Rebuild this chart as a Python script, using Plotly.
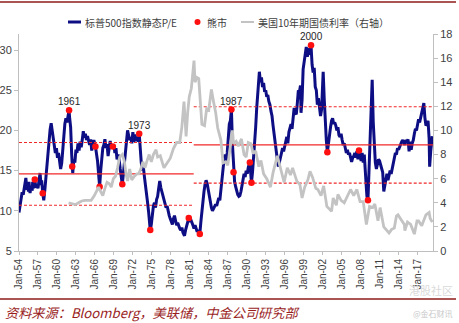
import plotly.graph_objects as go

# ---------------- data ----------------
# S&P 500 trailing P/E (left axis)
pe_dates = [
    "1954-01", "1954-03", "1954-05", "1954-07", "1954-09", "1954-11",
    "1955-01", "1955-02", "1955-04", "1955-05", "1955-07", "1955-08", "1955-10", "1955-12",
    "1956-02", "1956-03", "1956-05", "1956-07", "1956-09", "1956-11",
    "1957-01", "1957-03", "1957-05", "1957-07", "1957-08", "1957-10", "1957-12",
    "1958-02", "1958-04", "1958-06", "1958-08", "1958-10", "1958-12",
    "1959-02", "1959-04", "1959-06", "1959-08", "1959-10", "1959-12",
    "1960-02", "1960-04", "1960-06", "1960-08", "1960-10", "1960-12",
    "1961-02", "1961-04", "1961-06", "1961-08", "1961-10", "1961-12",
    "1962-01", "1962-03", "1962-05", "1962-06", "1962-07", "1962-09", "1962-11",
    "1963-01", "1963-03", "1963-05", "1963-07", "1963-09", "1963-11",
    "1964-01", "1964-03", "1964-05", "1964-07", "1964-09", "1964-11",
    "1965-01", "1965-03", "1965-05", "1965-07", "1965-09", "1965-11",
    "1966-02", "1966-04", "1966-06", "1966-08", "1966-10", "1966-12",
    "1967-02", "1967-04", "1967-06", "1967-08", "1967-10", "1967-12",
    "1968-02", "1968-04", "1968-06", "1968-08", "1968-11",
    "1969-01", "1969-03", "1969-05", "1969-07", "1969-09", "1969-11",
    "1970-01", "1970-03", "1970-05", "1970-07", "1970-09", "1970-11",
    "1971-01", "1971-03", "1971-05", "1971-07", "1971-09", "1971-11",
    "1972-01", "1972-03", "1972-05", "1972-07", "1972-09", "1972-11",
    "1973-01", "1973-03", "1973-05", "1973-07", "1973-09", "1973-11",
    "1974-01", "1974-03", "1974-05", "1974-07", "1974-09", "1974-10", "1974-12",
    "1975-02", "1975-04", "1975-06", "1975-08", "1975-10", "1975-12",
    "1976-02", "1976-04", "1976-06", "1976-08", "1976-10", "1976-12",
    "1977-02", "1977-04", "1977-06", "1977-08", "1977-10", "1977-12",
    "1978-02", "1978-04", "1978-06", "1978-08", "1978-10", "1978-12",
    "1979-02", "1979-04", "1979-06", "1979-08", "1979-10", "1979-12",
    "1980-02", "1980-03", "1980-05", "1980-07", "1980-09", "1980-11",
    "1981-01", "1981-03", "1981-05", "1981-07", "1981-09", "1981-11",
    "1982-01", "1982-03", "1982-05", "1982-07", "1982-08", "1982-10", "1982-12",
    "1983-02", "1983-04", "1983-06", "1983-08", "1983-10", "1983-12",
    "1984-02", "1984-04", "1984-06", "1984-08", "1984-10", "1984-12",
    "1985-02", "1985-04", "1985-06", "1985-08", "1985-10", "1985-12",
    "1986-02", "1986-04", "1986-06", "1986-08", "1986-10", "1986-12",
    "1987-02", "1987-04", "1987-06", "1987-08", "1987-10", "1987-12",
    "1988-02", "1988-04", "1988-06", "1988-08", "1988-10", "1988-12",
    "1989-02", "1989-04", "1989-06", "1989-08", "1989-10", "1989-12",
    "1990-02", "1990-04", "1990-07", "1990-08", "1990-10", "1990-12",
    "1991-02", "1991-04", "1991-06", "1991-08", "1991-10", "1991-12",
    "1992-01", "1992-03", "1992-05", "1992-07", "1992-09", "1992-11",
    "1993-01", "1993-03", "1993-05", "1993-07", "1993-09", "1993-11",
    "1994-01", "1994-03", "1994-05", "1994-07", "1994-09", "1994-11",
    "1995-01", "1995-03", "1995-05", "1995-07", "1995-09", "1995-11",
    "1996-01", "1996-03", "1996-05", "1996-07", "1996-09", "1996-11",
    "1997-01", "1997-03", "1997-05", "1997-07", "1997-09", "1997-11",
    "1998-01", "1998-03", "1998-05", "1998-07", "1998-08", "1998-10", "1998-12",
    "1999-02", "1999-04", "1999-06", "1999-08", "1999-10", "1999-12",
    "2000-01", "2000-03", "2000-05", "2000-07", "2000-09", "2000-11",
    "2001-01", "2001-03", "2001-05", "2001-07", "2001-09", "2001-11",
    "2002-01", "2002-02", "2002-04", "2002-06", "2002-08", "2002-10", "2002-12",
    "2003-02", "2003-04", "2003-06", "2003-08", "2003-10", "2003-12",
    "2004-02", "2004-04", "2004-06", "2004-08", "2004-10", "2004-12",
    "2005-02", "2005-04", "2005-06", "2005-08", "2005-10", "2005-12",
    "2006-02", "2006-04", "2006-06", "2006-08", "2006-10", "2006-12",
    "2007-02", "2007-04", "2007-06", "2007-08", "2007-10", "2007-12",
    "2008-02", "2008-04", "2008-06", "2008-08", "2008-10", "2008-12",
    "2009-01", "2009-03", "2009-05", "2009-07", "2009-09", "2009-11",
    "2010-01", "2010-03", "2010-05", "2010-07", "2010-09", "2010-11",
    "2011-01", "2011-03", "2011-05", "2011-07", "2011-09", "2011-11",
    "2012-01", "2012-03", "2012-05", "2012-07", "2012-09", "2012-11",
    "2013-01", "2013-03", "2013-05", "2013-07", "2013-09", "2013-11",
    "2014-01", "2014-03", "2014-05", "2014-07", "2014-09", "2014-11",
    "2015-01", "2015-03", "2015-05", "2015-07", "2015-09", "2015-11",
    "2016-01", "2016-03", "2016-05", "2016-07", "2016-09", "2016-11",
    "2017-01", "2017-03", "2017-05", "2017-07", "2017-09", "2017-11",
    "2018-01", "2018-03", "2018-05", "2018-07", "2018-09", "2018-11", "2018-12",
    "2019-02", "2019-04", "2019-05",
]
pe_values = [
    9.8, 10.6, 11.4, 12.3, 12.0, 13.0,
    13.6, 14.1, 12.6, 13.5, 12.4, 13.6, 12.2, 13.1,
    12.5, 13.6, 12.8, 13.9, 12.9, 13.3,
    12.8, 13.6, 14.7, 13.2, 13.8, 12.2, 11.3,
    12.6, 14.2, 16.0, 17.6, 19.0, 20.1,
    20.9, 20.0, 19.3, 18.4, 17.2, 17.8,
    16.6, 17.2, 16.0, 15.2, 15.9, 17.2,
    19.2, 20.8, 21.5, 21.0, 21.9, 22.5,
    21.6, 20.4, 17.0, 15.5, 14.7, 16.4, 16.0,
    17.6, 17.2, 18.4, 17.5, 18.6, 17.9,
    18.8, 19.9, 19.1, 19.6, 18.8, 19.3,
    18.7, 18.2, 18.9, 17.5, 18.3, 18.8,
    18.0, 17.2, 16.2, 14.6, 13.0, 15.0,
    16.4, 17.8, 18.2, 18.9, 17.8, 18.3,
    16.8, 17.6, 18.7, 17.9, 18.0,
    18.2, 17.2, 17.8, 16.4, 17.0, 16.4,
    15.2, 14.4, 13.3, 14.6, 16.0, 17.4,
    18.6, 20.0, 19.4, 18.8, 19.2, 18.4,
    19.8, 18.6, 19.5, 18.7, 19.2, 18.6,
    19.6, 17.6, 16.0, 15.0, 15.4, 14.2,
    12.8, 12.4, 11.0, 9.8, 8.4, 7.6, 8.3,
    9.6, 10.6, 11.0, 10.4, 11.4, 11.8,
    12.8, 13.7, 12.9, 12.4, 12.0, 11.6,
    11.0, 10.4, 10.6, 9.8, 9.4, 9.0,
    8.6, 8.3, 9.0, 9.4, 8.8, 8.2,
    8.5, 8.0, 7.8, 7.6, 7.9, 7.3,
    7.1, 6.9, 7.6, 8.3, 8.6, 9.1,
    8.8, 8.9, 8.4, 8.2, 7.8, 8.2,
    7.8, 7.4, 7.6, 7.3, 7.1, 8.6, 10.2,
    11.4, 12.4, 13.3, 13.8, 13.4, 12.6,
    11.6, 11.0, 10.4, 10.0, 10.3, 10.5,
    10.8, 10.6, 11.2, 11.6, 11.3, 12.6,
    14.2, 15.6, 16.4, 17.0, 16.2, 17.2,
    19.0, 20.8, 21.2, 22.6, 18.2, 14.8,
    13.6, 13.0, 12.4, 12.0, 11.8, 11.9,
    12.4, 13.2, 13.8, 14.6, 14.2, 15.0,
    14.6, 15.4, 16.0, 14.6, 13.5, 14.8,
    16.4, 18.2, 20.4, 22.8, 24.6, 25.6,
    27.3, 26.0, 26.6, 25.4, 25.9, 24.8,
    25.0, 24.2, 24.4, 23.6, 23.2, 22.4,
    21.8, 20.6, 19.4, 18.6, 17.6, 16.4,
    15.5, 15.9, 16.6, 17.2, 17.8, 17.4,
    18.2, 18.6, 19.2, 18.4, 19.8, 20.4,
    20.8, 20.2, 21.4, 22.8, 22.2, 22.0,
    23.4, 25.0, 24.8, 25.6, 22.2, 23.8, 27.6,
    28.4, 29.4, 30.4, 29.2, 29.8, 30.2,
    29.4, 30.6, 28.2, 27.2, 27.8, 25.4,
    25.0, 23.2, 24.0, 23.0, 21.8, 22.6,
    26.0, 27.3, 24.0, 21.0, 18.8, 17.3, 18.6,
    19.6, 20.4, 21.2, 21.5, 20.8, 21.0,
    20.6, 20.0, 20.4, 19.4, 19.2, 19.6,
    18.8, 18.2, 18.4, 17.6, 17.2, 17.6,
    17.0, 17.2, 16.4, 16.1, 16.6, 16.8,
    17.2, 16.6, 17.4, 16.4, 17.5, 16.8,
    16.2, 17.2, 16.0, 17.0, 14.0, 12.8,
    11.8, 11.3, 15.0, 19.0, 22.8, 26.3,
    21.0, 17.5, 16.0, 15.2, 16.0, 16.4,
    16.2, 15.6, 15.2, 14.8, 12.4, 13.2,
    13.6, 14.6, 13.8, 14.4, 15.0, 14.6,
    15.4, 16.0, 16.8, 17.2, 17.0, 17.8,
    17.6, 18.0, 18.2, 18.6, 18.8, 18.4,
    18.2, 18.8, 18.6, 18.9, 17.4, 18.6,
    17.6, 18.4, 18.8, 19.6, 20.2, 20.0,
    20.8, 21.4, 21.0, 21.6, 21.8, 22.4,
    23.4, 21.6, 20.6, 20.8, 21.2, 19.0, 15.5,
    17.4, 19.0, 19.3,
]
assert len(pe_dates) == len(pe_values)

# US 10-year Treasury yield, % (right axis)
ust_dates = [
    "1961-11", "1962-06", "1962-12", "1963-06", "1963-12", "1964-06", "1964-12",
    "1965-06", "1965-12", "1966-03", "1966-08", "1966-11", "1967-04", "1967-08", "1967-12",
    "1968-04", "1968-08", "1968-12", "1969-04", "1969-08", "1969-12", "1970-05", "1970-09",
    "1970-12", "1971-03", "1971-07", "1971-11", "1972-04", "1972-09", "1972-12", "1973-04",
    "1973-08", "1973-12", "1974-04", "1974-08", "1974-12", "1975-04", "1975-09", "1975-12",
    "1976-05", "1976-12", "1977-06", "1977-12", "1978-06", "1978-12", "1979-06", "1979-10",
    "1980-02", "1980-06", "1980-09", "1980-12", "1981-04", "1981-09", "1981-11", "1982-02",
    "1982-06", "1982-10", "1982-12", "1983-05", "1983-09", "1984-01", "1984-06", "1984-10",
    "1985-02", "1985-06", "1985-12", "1986-04", "1986-09", "1987-01", "1987-05", "1987-10",
    "1987-12", "1988-05", "1988-09", "1989-03", "1989-08", "1989-12", "1990-04", "1990-09",
    "1991-01", "1991-06", "1991-12", "1992-04", "1992-09", "1993-03", "1993-10", "1994-03",
    "1994-11", "1995-04", "1995-12", "1996-06", "1996-12", "1997-04", "1997-12", "1998-06",
    "1998-10", "1999-03", "1999-09", "2000-01", "2000-06", "2000-12", "2001-04", "2001-10",
    "2002-03", "2002-09", "2003-06", "2003-09", "2004-03", "2004-06", "2004-12", "2005-06",
    "2005-12", "2006-06", "2006-12", "2007-06", "2007-12", "2008-06", "2008-12", "2009-06",
    "2009-12", "2010-04", "2010-10", "2011-02", "2011-09", "2012-07", "2012-12", "2013-05",
    "2013-09", "2013-12", "2014-06", "2014-12", "2015-01", "2015-06", "2015-12", "2016-07",
    "2016-12", "2017-03", "2017-09", "2017-12", "2018-05", "2018-11", "2019-01", "2019-05",
]
ust_values = [
    4.0, 3.95, 3.85, 4.0, 4.15, 4.2, 4.2,
    4.2, 4.6, 4.9, 5.3, 5.0, 4.6, 5.2, 5.7,
    5.6, 5.3, 6.0, 6.2, 6.9, 7.8, 8.0, 7.4,
    6.4, 5.8, 6.8, 5.9, 6.2, 6.4, 6.4, 6.8,
    7.4, 6.9, 7.5, 8.0, 7.4, 8.0, 8.4, 7.8,
    7.9, 6.9, 7.3, 7.7, 8.5, 9.0, 9.0, 10.3,
    12.4, 9.5, 11.5, 12.8, 13.5, 15.8, 14.0, 14.4,
    14.3, 11.0, 10.5, 10.4, 11.8, 11.7, 13.4, 12.4,
    11.5, 10.2, 9.2, 7.3, 7.4, 7.1, 8.6, 10.0,
    8.9, 9.1, 8.7, 9.3, 8.0, 7.8, 9.0, 8.9,
    8.1, 8.3, 7.0, 7.5, 6.4, 6.0, 5.3, 6.5,
    7.9, 7.1, 5.7, 6.9, 6.3, 6.9, 5.8, 5.5,
    4.4, 5.3, 5.9, 6.6, 6.1, 5.2, 5.1, 4.6,
    5.4, 3.7, 3.3, 4.4, 3.8, 4.7, 4.2, 4.0,
    4.5, 5.1, 4.6, 5.1, 4.1, 4.1, 2.2, 3.7,
    3.6, 3.9, 2.5, 3.6, 2.0, 1.5, 1.8, 1.9,
    2.9, 3.0, 2.6, 2.2, 1.7, 2.4, 2.2, 1.4,
    2.5, 2.5, 2.1, 2.4, 3.0, 3.2, 2.7, 2.4,
]
assert len(ust_dates) == len(ust_values)

# Bear-market turning points (marked on the P/E line)
bear_dates = [
    "1956-07", "1957-10", "1961-12", "1962-06", "1966-02", "1966-10",
    "1968-11", "1970-05", "1973-01", "1974-10", "1980-11", "1982-08",
    "1987-08", "1987-12", "1990-07", "1990-10", "2000-03", "2002-10",
    "2007-10", "2009-03",
]
peak_labels = {"1961-12": "1961", "1973-01": "1973", "1987-08": "1987", "2000-03": "2000"}

# P/E regimes: start/end dates, mean and standard deviation
regime_starts = ["1954-01-01", "1981-08-15"]
regime_ends = ["1981-08-15", "2019-06-13"]
regime_means = [14.6, 18.2]
regime_sds = [3.9, 4.75]

x_ticks = [f"{y}-01-01" for y in range(1954, 2018, 3)]
left_ticks = [5, 10, 15, 20, 25, 30]
right_ticks = list(range(0, 19, 2))

# ---------------- figure ----------------
W, H = 459, 323
ML, MR, MT, MB = 19, 26, 34, 72
PW, PH = W - ML - MR, H - MT - MB


def px(x):
    return (x - ML) / PW


def py(y):
    return (H - MB - y) / PH


NAVY = "#0E0E84"
GRAY = "#C3C3C3"
RED = "#F02828"
TXT = "#404040"
FONT = "Liberation Sans, Arial, Noto Sans CJK SC"
CJK = "Noto Sans CJK SC, Liberation Sans"

fig = go.Figure()

fig.add_trace(go.Scatter(
    x=pe_dates, y=pe_values, mode="lines", name="标普500指数静态P/E",
    line=dict(color=NAVY, width=3), showlegend=False, hoverinfo="skip"))

for s, e, m, sd in zip(regime_starts, regime_ends, regime_means, regime_sds):
    fig.add_trace(go.Scatter(x=[s, e], y=[m, m], mode="lines", showlegend=False,
                             line=dict(color=RED, width=1.4), hoverinfo="skip"))
    for lvl in (m + sd, m - sd):
        fig.add_trace(go.Scatter(x=[s, e], y=[lvl, lvl], mode="lines", showlegend=False,
                                 line=dict(color=RED, width=1.1, dash="3px,2px"),
                                 hoverinfo="skip"))

pe_lookup = dict(zip(pe_dates, pe_values))
bear_values = [pe_lookup[d] for d in bear_dates]
fig.add_trace(go.Scatter(
    x=bear_dates, y=bear_values, mode="markers", name="熊市",
    marker=dict(color="#FF1010", size=6.5, line=dict(width=0)), showlegend=False))

fig.add_trace(go.Scatter(
    x=ust_dates, y=ust_values, mode="lines", name="美国10年期国债利率（右轴）", yaxis="y2",
    line=dict(color=GRAY, width=2.8), showlegend=False, hoverinfo="skip"))

annotations = []
for d, lab in peak_labels.items():
    annotations.append(dict(x=d, y=pe_lookup[d], xref="x", yref="y", text=lab,
                            showarrow=False, yanchor="bottom", yshift=1,
                            font=dict(family=FONT, size=10, color="#262626")))

# legend row
leg_y = py(22)
shapes = [
    dict(type="line", xref="paper", yref="paper", x0=px(68), x1=px(81), y0=leg_y, y1=leg_y,
         line=dict(color=NAVY, width=3)),
    dict(type="circle", xref="paper", yref="paper", x0=px(194.5), x1=px(200.5),
         y0=py(25), y1=py(19), fillcolor="#FF1010", line=dict(width=0)),
    dict(type="line", xref="paper", yref="paper", x0=px(241), x1=px(254), y0=leg_y, y1=leg_y,
         line=dict(color=GRAY, width=2)),
    # header and footer rules
    dict(type="line", xref="paper", yref="paper", x0=px(0), x1=px(456), y0=py(2), y1=py(2),
         line=dict(color="#8E1B1B", width=1.5)),
    dict(type="line", xref="paper", yref="paper", x0=px(0), x1=px(456), y0=py(299), y1=py(299),
         line=dict(color="#8E1B1B", width=1.5)),
]
for xl, txt in [(83, "标普500指数静态P/E"), (205, "熊市"), (256, "美国10年期国债利率（右轴）")]:
    annotations.append(dict(x=px(xl), y=leg_y, xref="paper", yref="paper", text=txt,
                            showarrow=False, xanchor="left", yanchor="middle",
                            font=dict(family=CJK, size=10, color=TXT)))

annotations.append(dict(x=px(3), y=py(312), xref="paper", yref="paper",
                        text="资料来源：Bloomberg，美联储，中金公司研究部",
                        showarrow=False, xanchor="left", yanchor="middle",
                        font=dict(family=CJK, size=13.2, color="#9A1E1E", style="italic")))
annotations.append(dict(x=px(455), y=py(290), xref="paper", yref="paper", text="港股社区",
                        showarrow=False, xanchor="right", yanchor="middle",
                        font=dict(family=CJK, size=11, color="#DADADA")))
annotations.append(dict(x=px(455), y=py(313), xref="paper", yref="paper", text="@金石财讯",
                        showarrow=False, xanchor="right", yanchor="middle",
                        font=dict(family=CJK, size=8, color="#C8C8C8")))

fig.update_layout(
    width=W, height=H,
    margin=dict(l=ML, r=MR, t=MT, b=MB, pad=0, autoexpand=False),
    paper_bgcolor="white", plot_bgcolor="white",
    showlegend=False,
    font=dict(family=FONT, color=TXT),
    xaxis=dict(type="date", range=["1954-01-01", "2019-06-13"], tickvals=x_ticks,
               tickformat="%b-%y", tickangle=-90, ticks="outside", ticklen=3,
               tickcolor="#BFBFBF", showline=True, linecolor="#BFBFBF", linewidth=1,
               showgrid=False, zeroline=False, automargin=False,
               tickfont=dict(size=10, color=TXT)),
    yaxis=dict(range=[5, 32], tickvals=left_ticks, ticks="outside", ticklen=4,
               tickcolor="#BFBFBF", showline=True, linecolor="#BFBFBF", linewidth=1,
               showgrid=False, zeroline=False, automargin=False,
               tickfont=dict(size=11, color=TXT)),
    yaxis2=dict(range=[0, 18], tickvals=right_ticks, overlaying="y", side="right",
                ticks="outside", ticklen=4, tickcolor="#BFBFBF", showline=True,
                linecolor="#BFBFBF", linewidth=1, showgrid=False, zeroline=False,
                automargin=False, tickfont=dict(size=11, color=TXT)),
    shapes=shapes,
    annotations=annotations,
)

fig.write_html("out.html")
